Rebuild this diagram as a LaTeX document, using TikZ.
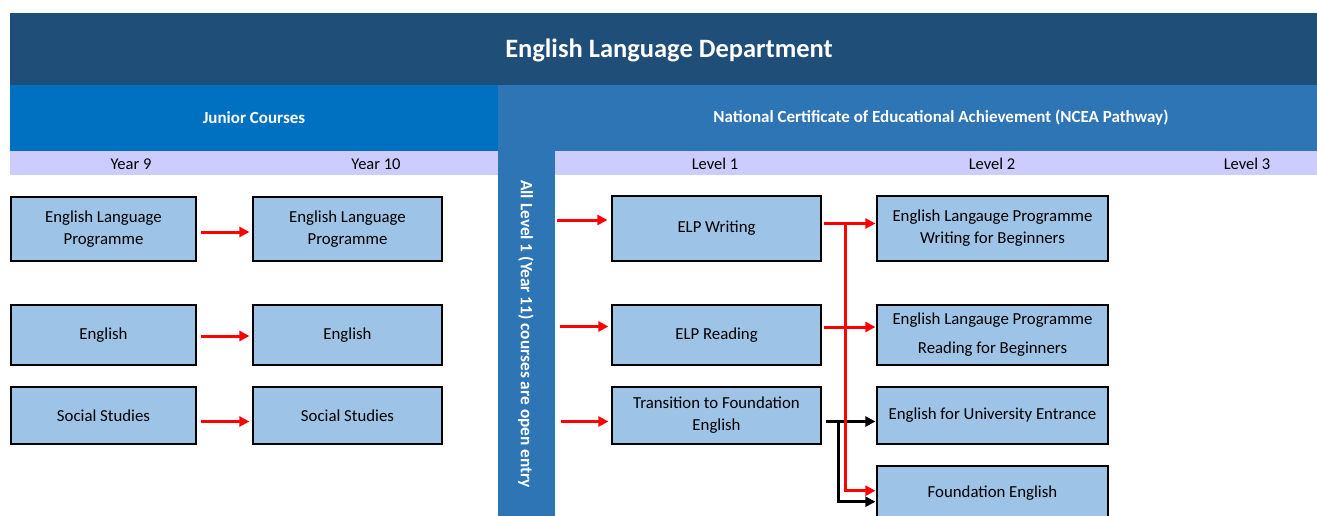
\documentclass[tikz,border=0pt]{standalone}
\usepackage{fontspec}
\setmainfont{Carlito}
\usetikzlibrary{arrows.meta,calc}
\definecolor{titleblue}{HTML}{1F4E79}
\definecolor{juniorblue}{HTML}{0070C0}
\definecolor{nceablue}{HTML}{2E75B6}
\definecolor{rowlav}{HTML}{CCCCFF}
\definecolor{boxblue}{HTML}{9DC3E6}
\begin{document}
\begin{tikzpicture}[x=1pt,y=-1pt,
  course/.style={draw=black, fill=boxblue, line width=1.2pt, inner sep=0pt, align=center,
    font=\fontsize{16.8}{22}\selectfont},
  colhead/.style={font=\fontsize{16.5}{20}\selectfont, inner sep=0pt},
  bandhead/.style={font=\fontsize{17}{20}\selectfont\bfseries, text=white, inner sep=0pt},
  redarr/.style={draw=red, line width=3pt, -{Triangle[length=10pt,width=10pt]}},
  blackarr/.style={draw=black, line width=3pt, -{Triangle[length=10pt,width=10pt]}}]
\useasboundingbox (0,0) rectangle (1317,516);
\clip (0,0) rectangle (1317,516);
\fill[white] (0,0) rectangle (1317,516);
% bands
\fill[titleblue] (10,13) rectangle (1317,85);
\fill[juniorblue] (10,85) rectangle (498,151);
\fill[nceablue] (498,85) rectangle (1317,151);
\fill[rowlav] (10,151) rectangle (498,175);
\fill[rowlav] (555,151) rectangle (1317,175);
\fill[nceablue] (498,151) rectangle (555,516);
\coordinate (barE) at (555,334);
% headings
\node[font=\fontsize{26.5}{30}\selectfont\bfseries, text=white] (title) at (669,50) {English Language Department};
\node[bandhead] (junior) at (254,118) {Junior Courses};
\node[bandhead] (ncea) at (941,118) {National Certificate of Educational Achievement (NCEA Pathway)};
\node[colhead] (y9) at (131,164) {Year 9};
\node[colhead] (y10) at (376,164) {Year 10};
\node[colhead] (l1) at (715,164) {Level 1};
\node[colhead] (l2) at (992,164) {Level 2};
\node[colhead] (l3) at (1247,164) {Level 3};
\node[rotate=-90, font=\fontsize{17.3}{20}\selectfont\bfseries, text=white, inner sep=0pt] (open) at (526,334)
  {All Level 1 (Year 11) courses are open entry};
% junior boxes
\node[course, minimum width=185pt, minimum height=64pt] (a1) at (103.5,229) {English Language\\Programme};
\node[course, minimum width=185pt, minimum height=60pt] (a2) at (103.5,335) {English};
\node[course, minimum width=185pt, minimum height=57pt] (a3) at (103.5,415.5) {Social Studies};
\node[course, minimum width=189pt, minimum height=64pt] (b1) at (347.5,229) {English Language\\Programme};
\node[course, minimum width=189pt, minimum height=60pt] (b2) at (347.5,335) {English};
\node[course, minimum width=189pt, minimum height=57pt] (b3) at (347.5,415.5) {Social Studies};
% level 1
\node[course, minimum width=209pt, minimum height=65pt] (w1) at (716.5,228.5) {ELP Writing};
\node[course, minimum width=209pt, minimum height=60pt] (w2) at (716.5,335) {ELP Reading};
\node[course, minimum width=209pt, minimum height=57pt] (w3) at (716.5,415.5) {Transition to Foundation\\English};
% level 2
\node[course, minimum width=231pt, minimum height=65pt] (e1) at (992.5,228.5) {English Langauge Programme\\Writing for Beginners};
\node[course, minimum width=231pt, minimum height=60pt] (e2) at (992.5,335) {English Langauge Programme\\[7pt]Reading for Beginners};
\node[course, minimum width=231pt, minimum height=57pt] (e3) at (992.5,415.5) {English for University Entrance};
\node[course, minimum width=231pt, minimum height=54pt] (e4) at (992.5,493) {Foundation English};
% junior arrows
\draw[redarr] ([xshift=4pt,yshift=-3pt]a1.east) -- ([xshift=-3pt,yshift=-3pt]b1.west);
\draw[redarr] ([xshift=4pt,yshift=-1pt]a2.east) -- ([xshift=-3pt,yshift=-1pt]b2.west);
\draw[redarr] ([xshift=4pt,yshift=-6pt]a3.east) -- ([xshift=-3pt,yshift=-6pt]b3.west);
% entry arrows
\draw[redarr] ([xshift=2pt,yshift=8.5pt]barE |- w1.west) -- ([xshift=-4pt,yshift=8.5pt]w1.west);
\draw[redarr] ([xshift=5pt,yshift=8.5pt]barE |- w2.west) -- ([xshift=-3pt,yshift=8.5pt]w2.west);
\draw[redarr] ([xshift=6pt,yshift=-6pt]barE |- w3.west) -- ([xshift=-3pt,yshift=-6pt]w3.west);
% level 1 -> level 2
\draw[blackarr] ([xshift=4pt,yshift=-6pt]w3.east) -- ([xshift=-1pt,yshift=-6pt]e3.west);
\coordinate (btop) at (838,421.5);
\draw[blackarr] (btop) |- ([xshift=-1pt,yshift=-8.7pt]e4.west);
\draw[redarr] ([xshift=2pt,yshift=5pt]w1.east) -- ([xshift=-1pt,yshift=5pt]e1.west);
\draw[redarr] ([xshift=2pt,yshift=8pt]w2.east) -- ([xshift=-1pt,yshift=8pt]e2.west);
\coordinate (rtop) at (845,223.5);
\draw[redarr] (rtop) |- ([xshift=-1pt,yshift=2.3pt]e4.west);
\end{tikzpicture}
\end{document}
